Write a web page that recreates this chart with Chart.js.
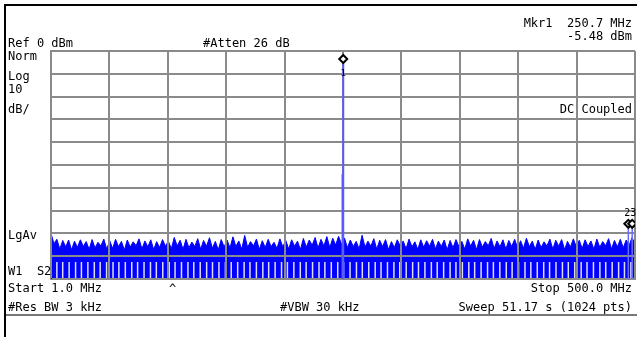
<!DOCTYPE html>
<html>
<head>
<meta charset="utf-8">
<script src="https://cdn.jsdelivr.net/npm/chart.js@4/dist/chart.umd.min.js"></script>
<style>
  html, body { margin: 0; padding: 0; background: #fff; }
  canvas { display: block; }
</style>
</head>
<body>
<canvas id="sa" width="637" height="337"></canvas>
<script>
// sweep settings (from the screen annotations)
const startMHz = 1.0;
const stopMHz = 500.0;
const refLevel = 0;
const dbPerDiv = 10;

// noise floor, 10 rows of ~50 MHz
const noiseDbm = [
  -80.0, -84.5, -82.6, -86.8, -83.1, -85.9, -82.9, -87.2, -83.4, -86.1, -82.8, -85.7, -83.6, -87.0, -82.7, -86.4, -83.9, -85.5, -82.5, -86.9,
  -83.2, -86.6, -82.6, -85.8, -83.5, -87.3, -82.9, -86.0, -83.7, -85.4, -82.4, -86.8, -83.3, -85.9, -82.8, -87.1, -83.6, -86.2, -82.7, -85.6,
  -83.4, -86.7, -81.8, -85.5, -83.0, -87.0, -82.6, -86.3, -83.8, -85.8, -82.3, -86.9, -83.1, -85.6, -81.9, -86.5, -83.5, -87.2, -82.7, -85.9,
  -82.9, -86.4, -81.5, -85.7, -83.3, -86.9, -80.9, -86.1, -83.6, -85.5, -82.5, -87.0, -83.2, -86.2, -82.6, -85.8, -83.9, -86.6, -82.4, -85.9,
  -83.1, -86.8, -82.8, -85.6, -83.4, -87.1, -82.2, -86.0, -82.9, -85.2, -81.8, -86.4, -82.6, -85.5, -81.4, -86.2, -82.1, -85.1, -81.3, -84.8,
  -82.0, -86.3, -82.9, -85.7, -83.5, -86.8, -80.8, -86.0, -83.4, -85.6, -82.3, -86.9, -83.0, -85.8, -82.7, -87.1, -83.6, -86.2, -82.8, -85.5,
  -83.3, -86.7, -82.5, -85.9, -83.7, -87.0, -82.8, -86.1, -83.2, -85.6, -82.6, -86.8, -83.4, -85.7, -82.9, -87.2, -83.1, -86.3, -82.7, -85.8,
  -83.5, -86.9, -82.4, -85.6, -83.0, -87.1, -82.7, -86.0, -83.6, -85.4, -82.2, -86.6, -83.3, -85.9, -82.8, -86.8, -83.1, -85.7, -82.6, -86.4,
  -83.2, -86.5, -82.1, -85.8, -83.4, -87.0, -82.9, -86.2, -83.7, -85.5, -82.5, -86.9, -83.0, -85.6, -82.7, -87.1, -83.5, -86.0, -82.4, -85.9,
  -83.0, -86.6, -82.8, -85.7, -83.3, -86.9, -82.5, -86.1, -83.6, -85.4, -82.3, -86.8, -83.1, -85.9, -82.6, -86.3, -82.9, -85.2, -81.8, -84.6
];

// frequencies (MHz) of the deep dips that show as light stripes at the bottom
const dipMHz = [
  6, 11, 16.5, 22, 27, 32.5, 38, 43, 48.5, 54, 59, 64.5, 70, 75, 80.5, 86, 91, 96.5, 102, 107,
  112.5, 118, 123, 128.5, 134, 139, 144.5, 150, 155, 160.5, 166, 171, 176.5, 182, 187, 192.5, 198, 203,
  208.5, 214, 219, 224.5, 230, 235, 240.5, 246, 251, 256.5, 262, 267, 272.5, 278, 283, 288.5, 294, 299,
  304.5, 310, 315, 320.5, 326, 331, 336.5, 342, 347, 352.5, 358, 363, 368.5, 374, 379, 384.5, 390, 395,
  400.5, 406, 411, 416.5, 422, 427, 432.5, 438, 443, 448.5, 454, 459, 464.5, 470, 475, 480.5, 486, 491, 496.5
];
const dipDbm = -92.5;

// carrier and markers
const peakMHz = [250.1, 250.7];
const peakDbm = [-54.0, -5.48];
const markerNames = ['1', '2', '3'];
const markerMHz = [250.7, 494.3, 497.6];
const markerDbm = [-3.5, -75.8, -75.8];
const spurDbm = [-5.48, -77.5, -77.5];

const floorDbm = refLevel - 10 * dbPerDiv;

const noisePts = noiseDbm.map((v, i) => ({
  x: startMHz + i * (stopMHz - startMHz) / (noiseDbm.length - 1), y: v
}));

const dipPts = [];
dipMHz.forEach(f => {
  dipPts.push({ x: f, y: floorDbm }, { x: f, y: dipDbm }, { x: f, y: null });
});

const peakPts = [];
peakMHz.forEach((f, i) => {
  peakPts.push({ x: f, y: floorDbm }, { x: f, y: peakDbm[i] }, { x: f, y: null });
});
const spurPts = [];
markerMHz.slice(1).forEach((f, i) => {
  spurPts.push({ x: f, y: floorDbm }, { x: f, y: spurDbm[i + 1] }, { x: f, y: null });
});

const xTicks = Array.from({ length: 11 }, (_, k) => startMHz + k * (stopMHz - startMHz) / 10);

const MONO = '"DejaVu Sans Mono", "Liberation Mono", monospace';

// grid over the filled trace, like the analyzer screen
const gridOnTop = {
  id: 'gridOnTop',
  afterDatasetDraw(chart, args) {
    if (args.index !== 1) return;
    const ctx = chart.ctx;
    ctx.save();
    chart.scales.x.drawGrid(chart.chartArea);
    chart.scales.y.drawGrid(chart.chartArea);
    ctx.restore();
  }
};

const screenText = {
  id: 'screenText',
  afterDraw(chart) {
    const ctx = chart.ctx;
    ctx.save();
    // frame of the screen
    ctx.fillStyle = '#000';
    ctx.fillRect(4, 4, 633, 2);
    ctx.fillRect(4, 4, 2, 333);
    ctx.fillStyle = '#777';
    ctx.fillRect(6, 314, 631, 2);

    ctx.font = '12px ' + MONO;
    ctx.fillStyle = '#000';
    ctx.textBaseline = 'alphabetic';
    ctx.textAlign = 'left';
    const left = [
      ['Ref 0 dBm', 8, 47], ['#Atten 26 dB', 203, 47],
      ['Norm', 8, 60], ['Log', 8, 80], ['10', 8, 93], ['dB/', 8, 113],
      ['LgAv', 8, 239], ['W1  S2', 8, 275],
      ['Start 1.0 MHz', 8, 292], ['#Res BW 3 kHz', 8, 311], ['#VBW 30 kHz', 280, 311]
    ];
    left.forEach(t => ctx.fillText(t[0], t[1], t[2]));
    ctx.textAlign = 'right';
    const right = [
      ['Mkr1  250.7 MHz', 27], ['-5.48 dBm', 40], ['DC Coupled', 113],
      ['Stop 500.0 MHz', 292], ['Sweep 51.17 s (1024 pts)', 311]
    ];
    right.forEach(t => ctx.fillText(t[0], 632, t[1]));
    ctx.textAlign = 'center';
    ctx.fillText('^', chart.scales.x.getPixelForValue(105), 293);

    // marker numbers
    ctx.font = '9px ' + MONO;
    const x1 = chart.scales.x.getPixelForValue(markerMHz[0]);
    ctx.fillText(markerNames[0], x1, 76);
    const x23 = (chart.scales.x.getPixelForValue(markerMHz[1]) + chart.scales.x.getPixelForValue(markerMHz[2])) / 2;
    ctx.font = '10px ' + MONO;
    ctx.fillText(markerNames[1] + markerNames[2], x23, 216);
    ctx.restore();
  }
};

new Chart(document.getElementById('sa'), {
  type: 'line',
  data: {
    datasets: [
      {
        label: 'trace',
        data: noisePts,
        borderColor: '#0000ff',
        backgroundColor: '#0000ff',
        borderWidth: 1,
        pointRadius: 0,
        fill: 'start',
        tension: 0,
        order: 5
      },
      {
        label: 'dips',
        data: dipPts,
        borderColor: '#dcdcff',
        borderWidth: 1.5,
        pointRadius: 0,
        spanGaps: false,
        fill: false,
        order: 4
      },
      {
        label: 'carrier',
        data: peakPts,
        borderColor: '#5a5aff',
        borderWidth: 2,
        pointRadius: 0,
        spanGaps: false,
        fill: false,
        order: 3
      },
      {
        label: 'spurs',
        data: spurPts,
        borderColor: '#6a6aff',
        borderWidth: 1.5,
        pointRadius: 0,
        spanGaps: false,
        fill: false,
        order: 2
      },
      {
        label: 'markers',
        data: markerMHz.map((f, i) => ({ x: f, y: markerDbm[i] })),
        showLine: false,
        pointStyle: 'rectRot',
        pointRadius: 4,
        pointBorderWidth: 2,
        pointBorderColor: '#000',
        pointBackgroundColor: '#fff',
        order: 1
      }
    ]
  },
  options: {
    responsive: false,
    animation: false,
    devicePixelRatio: 1,
    layout: { autoPadding: false, padding: { left: 51, top: 51, right: 2, bottom: 58 } },
    plugins: { legend: { display: false }, tooltip: { enabled: false } },
    scales: {
      x: {
        type: 'linear',
        min: startMHz,
        max: stopMHz,
        afterBuildTicks: s => { s.ticks = xTicks.map(v => ({ value: v })); },
        ticks: { display: false },
        grid: { color: '#8a8a8a', lineWidth: 2, drawTicks: false },
        border: { display: true, color: '#8a8a8a', width: 2 }
      },
      y: {
        min: floorDbm,
        max: refLevel,
        ticks: { display: false, stepSize: dbPerDiv },
        grid: { color: '#8a8a8a', lineWidth: 2, drawTicks: false },
        border: { display: true, color: '#8a8a8a', width: 2 }
      }
    }
  },
  plugins: [gridOnTop, screenText]
});
</script>
</body>
</html>
